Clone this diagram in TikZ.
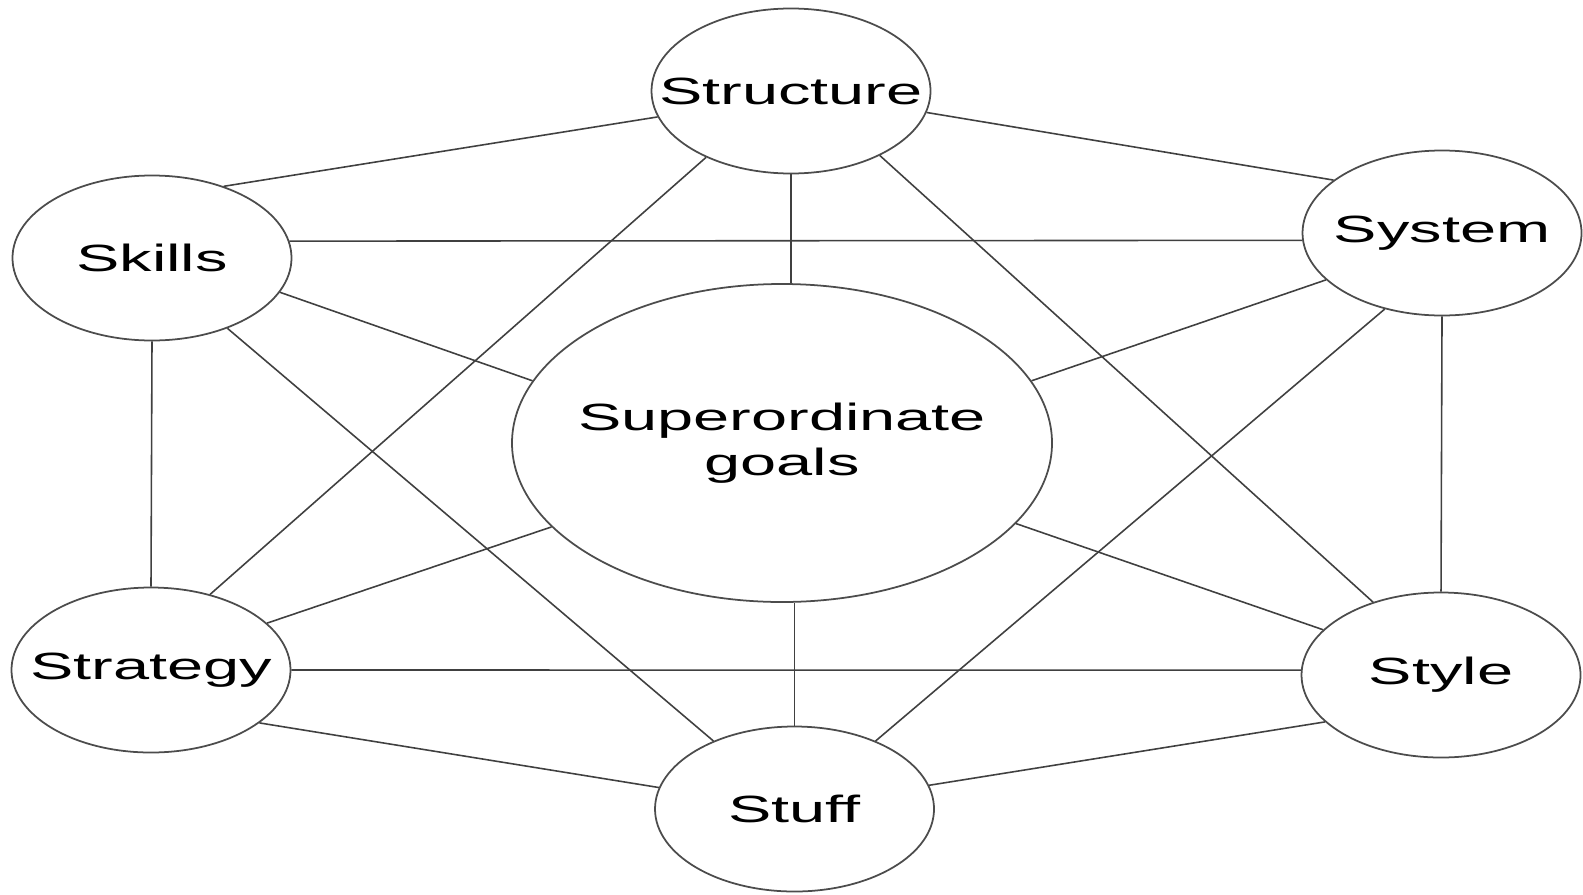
\documentclass[tikz,border=0pt]{standalone}
\usepackage{graphicx}
\usepackage{fontspec}
\setmainfont{Liberation Sans}
\usetikzlibrary{shapes.geometric}

\newcommand{\wide}[1]{\makebox[0pt]{\scalebox{1.71}[1]{#1}}}

\tikzset{
  part/.style={ellipse, draw=black!70, line width=0.5pt, inner sep=0pt,
    minimum width=2.79cm, minimum height=1.65cm,
    font=\fontsize{10.8}{12.8}\selectfont},
  core/.style={part, minimum width=5.40cm, minimum height=3.18cm},
  link/.style={draw=black!75, line width=0.45pt}
}

\begin{document}
\begin{tikzpicture}
\useasboundingbox (0,0) rectangle (15.83,8.94);

\node[part] (structure) at (7.91,8.03) {\wide{Structure}};
\node[part] (skills) at (1.52,6.36) {\wide{Skills}};
\node[part] (system) at (14.42,6.61) {\wide{System}};
\node[core, align=center] (goals) at (7.82,4.51) {\wide{Superordinate}\\\wide{goals}};
\node[part] (strategy) at (1.51,2.24) {\wide{Strategy}};
\node[part] (style) at (14.41,2.19) {\wide{Style}};
\node[part] (stuff) at (7.945,0.85) {\wide{Stuff}};

\draw[link] (skills.45) -- (structure.191);
\draw[link] (structure.-9) -- (system.154);
\draw[link] (structure.218) -- (strategy.52);
\draw[link] (structure.south) -- (structure.south |- goals.north);
\draw[link] (structure.-36) -- (style.133);

\draw[link] (skills.7) -- (system.183);
\draw[link] (skills.-15) -- (goals.166);
\draw[link] (skills.-43) -- (stuff.140);
\draw[link] (skills.south) -- (strategy.north);

\draw[link] (system.202) -- (goals.14);
\draw[link] (system.233) -- (stuff.40);
\draw[link] (system.south) -- (style.north);

\draw[link] (goals.200) -- (strategy.22);
\draw[link] (goals.-19) -- (style.159);
\draw[link] (stuff.north) -- (stuff.north |- goals.south);

\draw[link] (strategy.0) -- (style.178);
\draw[link] (strategy.-26) -- (stuff.171);
\draw[link] (style.202) -- (stuff.10);
\end{tikzpicture}
\end{document}
